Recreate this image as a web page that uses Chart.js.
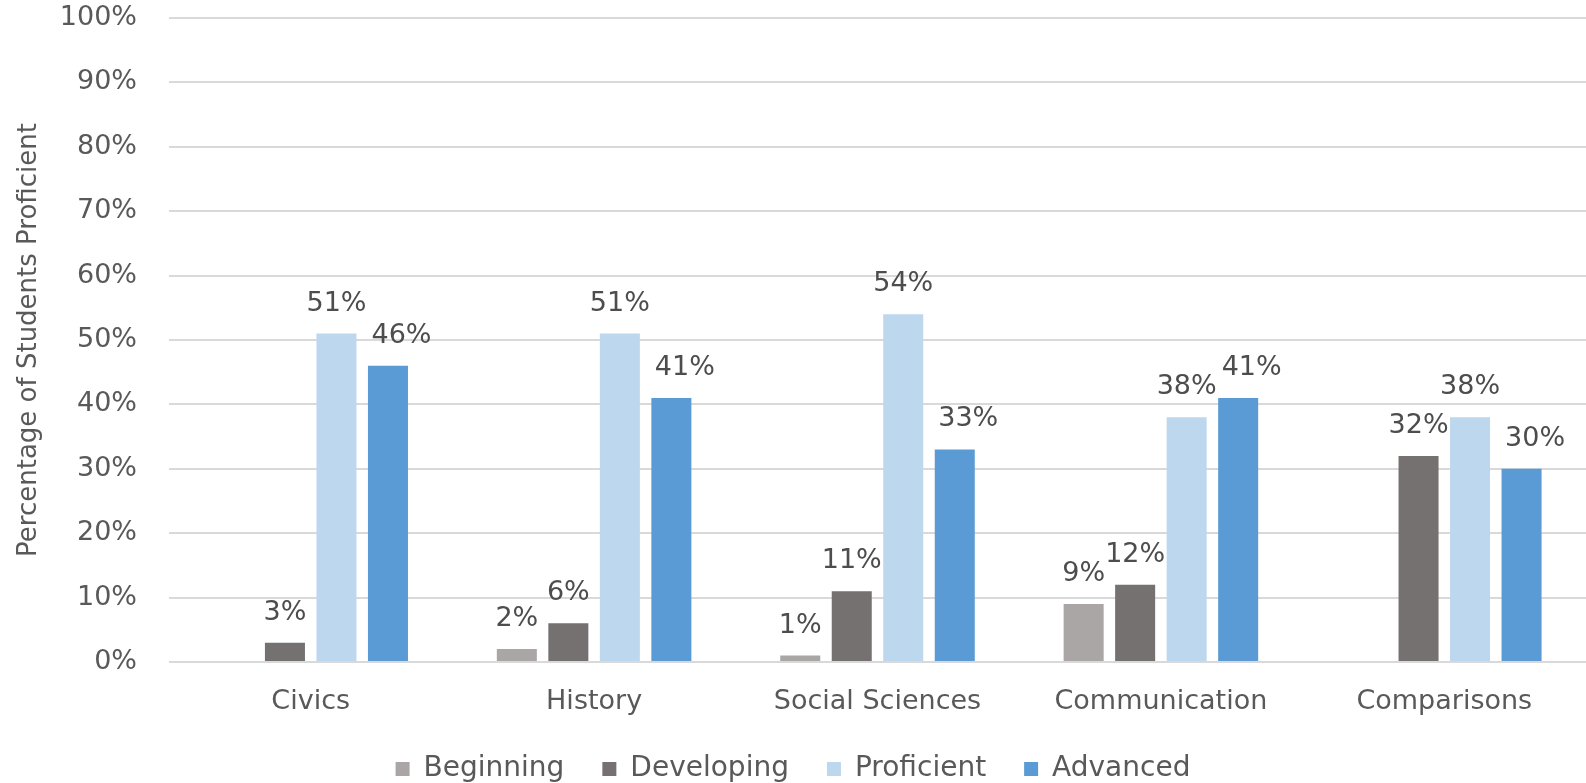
<!DOCTYPE html>
<html>
<head>
<meta charset="utf-8">
<script src="https://cdn.jsdelivr.net/npm/chart.js@4"></script>
<style>
  html, body { margin: 0; padding: 0; background: #ffffff; }
  #wrap { width: 1586px; height: 783px; }
</style>
</head>
<body>
<div id="wrap"><canvas id="chart" width="1586" height="783"></canvas></div>
<script>
// Skill areas and share of students at each performance level (%)
const categories = ['Civics', 'History', 'Social Sciences', 'Communication', 'Comparisons'];
const seriesNames = ['Beginning', 'Developing', 'Proficient', 'Advanced'];
const beginning  = [null, 2, 1, 9, null];
const developing = [3, 6, 11, 12, 32];
const proficient = [51, 51, 54, 38, 38];
const advanced   = [46, 41, 33, 41, 30];
const yTicks = [0, 10, 20, 30, 40, 50, 60, 70, 80, 90, 100];

const seriesColors = ['#a9a6a5', '#767171', '#bdd7ee', '#5b9bd5'];
const FONT = '"DejaVu Sans", sans-serif';
const TEXT = '#595959';

// Percentage labels above each bar; a label that would run into a bar or
// an earlier label of the same group is pushed to the right.
const valueLabels = {
  id: 'valueLabels',
  afterDatasetsDraw(chart) {
    const ctx = chart.ctx;
    const size = 27;
    const capH = size * 0.73;
    ctx.save();
    ctx.font = size + 'px ' + FONT;
    ctx.fillStyle = '#4d4d4d';
    ctx.textAlign = 'left';
    ctx.textBaseline = 'alphabetic';
    chart.data.labels.forEach((_, i) => {
      const placed = [];
      const bars = [];
      chart.data.datasets.forEach((ds, d) => {
        const el = chart.getDatasetMeta(d).data[i];
        const v = ds.data[i];
        if (v == null || !el) return;
        const text = v + '%';
        const w = ctx.measureText(text).width;
        const baseY = el.y - 23;
        let left = el.x - w / 2;
        for (let pass = 0; pass < 4; pass++) {
          let moved = false;
          bars.forEach(b => {
            if (left < b.right + 15 && left + w > b.left && baseY > b.top) {
              left = b.right + 15; moved = true;
            }
          });
          placed.forEach(p => {
            const hOverlap = Math.min(left + w, p.right) - Math.max(left, p.left);
            if (hOverlap > 2 && baseY - capH < p.bottom + 14 && baseY + 14 > p.top) {
              left = p.right + 5; moved = true;
            }
          });
          if (!moved) break;
        }
        ctx.fillText(text, left, baseY);
        placed.push({ left: left, right: left + w, top: baseY - capH, bottom: baseY });
        bars.push({ left: el.x - el.width / 2, right: el.x + el.width / 2, top: el.y });
      });
    });
    ctx.restore();
  }
};

const seriesData = [beginning, developing, proficient, advanced];

new Chart(document.getElementById('chart'), {
  type: 'bar',
  data: {
    labels: categories,
    datasets: seriesNames.map((name, k) => ({
      label: name,
      data: seriesData[k],
      backgroundColor: seriesColors[k],
      borderWidth: 0,
      categoryPercentage: 0.727,
      barPercentage: 0.777
    }))
  },
  options: {
    responsive: false,
    animation: false,
    layout: { padding: { top: 18, left: 0, right: 0, bottom: 0 } },
    plugins: {
      tooltip: { enabled: false },
      legend: {
        position: 'bottom',
        maxHeight: 66,
        labels: {
          boxWidth: 14,
          boxHeight: 14,
          padding: 38,
          color: TEXT,
          font: { family: FONT, size: 28 }
        }
      }
    },
    scales: {
      x: {
        grid: { display: false, drawTicks: false },
        border: { display: false },
        ticks: { color: TEXT, padding: 24, font: { family: FONT, size: 27 } },
        afterFit(scale) { scale.height = 55; }
      },
      y: {
        min: 0,
        max: 100,
        afterBuildTicks(scale) { scale.ticks = yTicks.map(v => ({ value: v })); },
        grid: {
          color: '#d9d9d9',
          lineWidth: 2,
          drawTicks: true,
          tickLength: 32,
          tickColor: 'rgba(0,0,0,0)'
        },
        border: { display: false },
        ticks: {
          color: TEXT,
          padding: 0,
          font: { family: FONT, size: 27 },
          callback: v => v + '%'
        },
        title: {
          display: true,
          text: 'Percentage of Students Proficient',
          color: TEXT,
          font: { family: FONT, size: 26 },
          padding: { top: 14, bottom: 0 }
        },
        afterFit(scale) { scale.width = 169; }
      }
    }
  },
  plugins: [valueLabels]
});
</script>
</body>
</html>
